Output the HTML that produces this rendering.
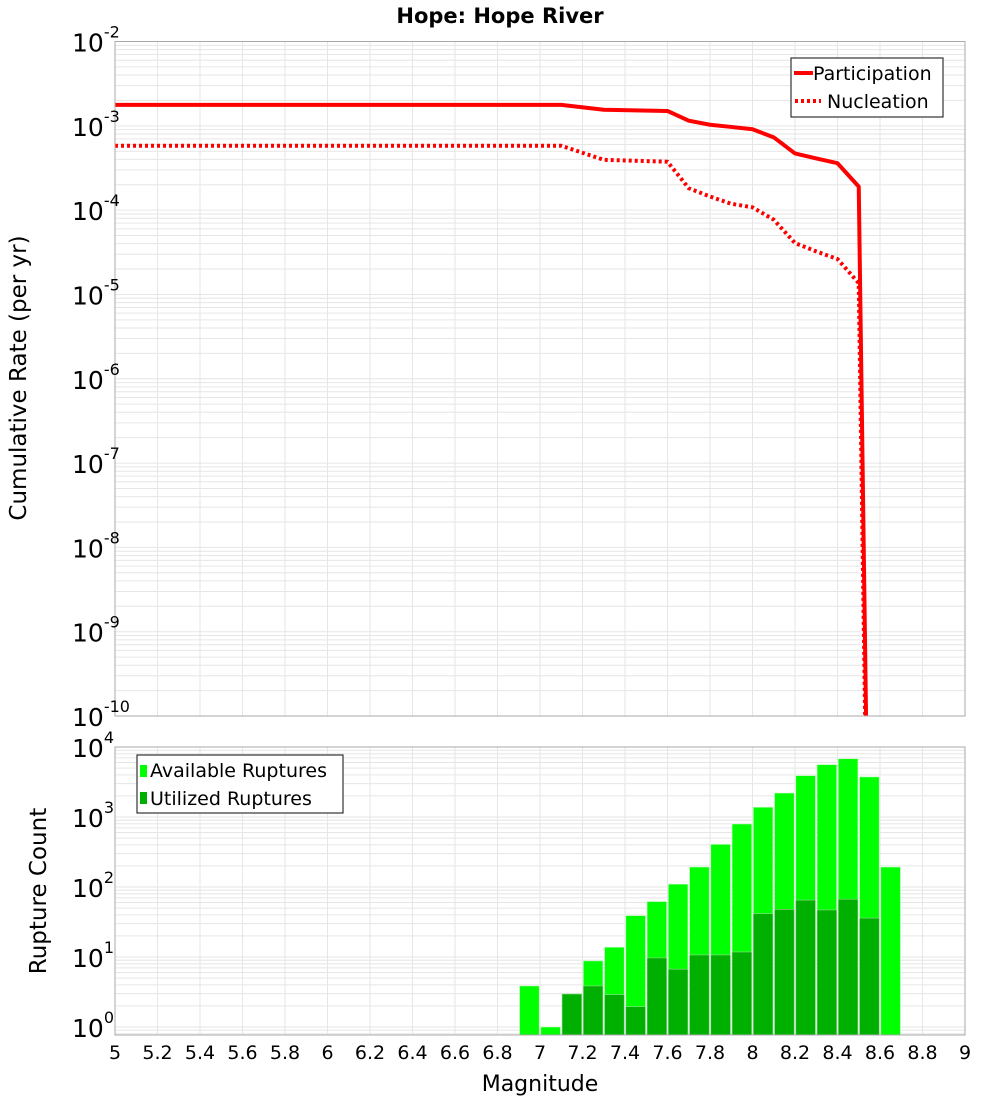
<!DOCTYPE html>
<html><head><meta charset="utf-8"><style>
html,body{margin:0;padding:0;background:#fff;width:1000px;height:1100px;overflow:hidden;}
svg{display:block;font-family:"DejaVu Sans","Liberation Sans",sans-serif;}
</style></head><body>
<svg id="chart" width="1000" height="1100" viewBox="0 0 1000 1100">
<text x="500" y="23" text-anchor="middle" font-size="21" font-weight="bold">Hope: Hope River</text>
<text transform="translate(26,378) rotate(-90)" text-anchor="middle" font-size="23">Cumulative Rate (per yr)</text>
<text transform="translate(46,891) rotate(-90)" text-anchor="middle" font-size="23">Rupture Count</text>
<text x="540" y="1091" text-anchor="middle" font-size="22">Magnitude</text>
<g id="topPlot"></g><g id="botPlot"></g>
</svg>
<script>
const magsLine = [5.0, 7.1, 7.3, 7.6, 7.7, 7.8, 7.9, 8.0, 8.1, 8.2, 8.3, 8.4, 8.5, 8.6];
const participation = [1.77e-3, 1.77e-3, 1.55e-3, 1.5e-3, 1.15e-3, 1.03e-3, 0.97e-3, 0.91e-3, 7.3e-4, 4.7e-4, 4.1e-4, 3.6e-4, 1.9e-4, 1e-22];
const nucleation = [5.8e-4, 5.8e-4, 3.95e-4, 3.75e-4, 1.82e-4, 1.45e-4, 1.19e-4, 1.08e-4, 7.7e-5, 4.07e-5, 3.24e-5, 2.63e-5, 1.36e-5, 1e-22];
const binMags = [6.95, 7.05, 7.15, 7.25, 7.35, 7.45, 7.55, 7.65, 7.75, 7.85, 7.95, 8.05, 8.15, 8.25, 8.35, 8.45, 8.55, 8.65];
const available = [3.86, 1.0, 2.96, 8.8, 13.8, 39, 62, 110, 193, 407, 795, 1380, 2200, 3900, 5600, 6800, 3740, 193];
const utilized = [0, 0, 2.96, 3.86, 2.9, 1.95, 9.7, 6.7, 10.7, 10.7, 11.8, 41.5, 48, 65, 47, 67, 36, 0];
const xTicks = ["5","5.2","5.4","5.6","5.8","6","6.2","6.4","6.6","6.8","7","7.2","7.4","7.6","7.8","8","8.2","8.4","8.6","8.8","9"];
const topExps = [-2,-3,-4,-5,-6,-7,-8,-9,-10];
const botExps = [4,3,2,1,0];

const NS="http://www.w3.org/2000/svg";
const X0=115,X1=965;
const xs=m=>X0+(m-5)/4*(X1-X0);
const T0=41.5,T1=716, yTop=v=>T0+(-2-Math.log10(v))*(T1-T0)/8;
const B0=747,B1=1035, BD=70, yBot=v=>B0+(4-Math.log10(v))*BD;
function el(tag,attrs,parent){const e=document.createElementNS(NS,tag);for(const k in attrs)e.setAttribute(k,attrs[k]);parent.appendChild(e);return e;}
const topG=document.getElementById('topPlot'),botG=document.getElementById('botPlot');

function grid(parent,y0,y1,yf,decHi,decLo){
  const g=el('g',{},parent);
  
  
  for(let d=decLo;d<decHi;d++)for(let k=1;k<10;k++){const yy=yf(k*Math.pow(10,d));if(yy>=y0&&yy<=y1)el('line',{x1:X0,x2:X1,y1:yy,y2:yy,stroke:'#e6e6e6','stroke-width':1},g);}
  for(let i=1;i<xTicks.length-1;i++){const xx=xs(+xTicks[i]);el('line',{x1:xx,x2:xx,y1:y0,y2:y1,stroke:'#e6e6e6','stroke-width':1},g);}
}
grid(topG,T0,T1,yTop,-1,-11);
grid(botG,B0,B1,yBot,5,-1);

const defs=el('defs',{},topG);
const cp=el('clipPath',{id:'ctop'},defs);el('rect',{x:X0,y:T0,width:X1-X0,height:T1-T0},cp);
function poly(vals,dash,name){
  const pts=magsLine.map((m,i)=>xs(m)+','+yTop(vals[i])).join(' ');
  const p=el('polyline',{points:pts,fill:'none',stroke:'#ff0000','stroke-width':4,'stroke-linejoin':'round','clip-path':'url(#ctop)'},topG);
  if(dash)p.setAttribute('stroke-dasharray',dash);
  
  
}
poly(participation,null,'participation-line');
poly(nucleation,'3,3','nucleation-line');
const tf=el('rect',{x:X0,y:T0,width:X1-X0,height:T1-T0,fill:'none',stroke:'#aaa','stroke-width':1},topG);



const bw=xs(5.1)-xs(5);
binMags.forEach((m,i)=>{
  if(available[i]>0){const yy=yBot(available[i]);const r=el('rect',{x:xs(m)-bw/2+0.8,y:yy,width:bw-1.6,height:B1-yy,fill:'#00ff00',stroke:'#c8ffc8','stroke-width':0.6},botG);
    
    }
  if(utilized[i]>0){const yy=yBot(utilized[i]);const r=el('rect',{x:xs(m)-bw/2+0.8,y:yy,width:bw-1.6,height:B1-yy,fill:'#00b000',stroke:'#9ad89a','stroke-width':0.6},botG);
    
    }
});
const bf=el('rect',{x:X0,y:B0,width:X1-X0,height:B1-B0,fill:'none',stroke:'#aaa','stroke-width':1},botG);



function powLabel(parent,yy,e,name){
  const t=el('text',{x:72,y:yy+10,'font-size':25},parent);
  
  
  const a=el('tspan',{},t);a.textContent='10';
  const b=el('tspan',{dy:-14,'font-size':16},t);b.textContent=String(e);
}
topExps.forEach(e=>powLabel(topG,yTop(Math.pow(10,e)),e,'top-y-tick-label'));
botExps.forEach(e=>powLabel(botG,yBot(Math.pow(10,e)),e,'bottom-y-tick-label'));
xTicks.forEach(s=>{const t=el('text',{x:xs(+s),y:1059,'text-anchor':'middle','font-size':19},botG);t.textContent=s;
  
  });

const lg=el('g',{},topG);


el('rect',{x:791,y:58,width:152,height:59,fill:'#fff',stroke:'#333','stroke-width':1.2},lg);
el('line',{x1:794,x2:813,y1:73,y2:73,stroke:'#f00','stroke-width':4},lg);
el('line',{x1:795,x2:821,y1:101,y2:101,stroke:'#f00','stroke-width':4,'stroke-dasharray':'3,3'},lg);
let t=el('text',{x:813,y:80,'font-size':19},lg);t.textContent='Participation';
t=el('text',{x:827,y:108,'font-size':19},lg);t.textContent='Nucleation';
const bl=el('g',{},botG);


el('rect',{x:137,y:755,width:206,height:58,fill:'#fff',stroke:'#333','stroke-width':1.2},bl);
el('rect',{x:140,y:765,width:7,height:12,fill:'#00ff00'},bl);
el('rect',{x:140,y:792,width:7,height:12,fill:'#00b000'},bl);
t=el('text',{x:150,y:777,'font-size':19},bl);t.textContent='Available Ruptures';
t=el('text',{x:150,y:805,'font-size':19},bl);t.textContent='Utilized Ruptures';
</script>
</body></html>
